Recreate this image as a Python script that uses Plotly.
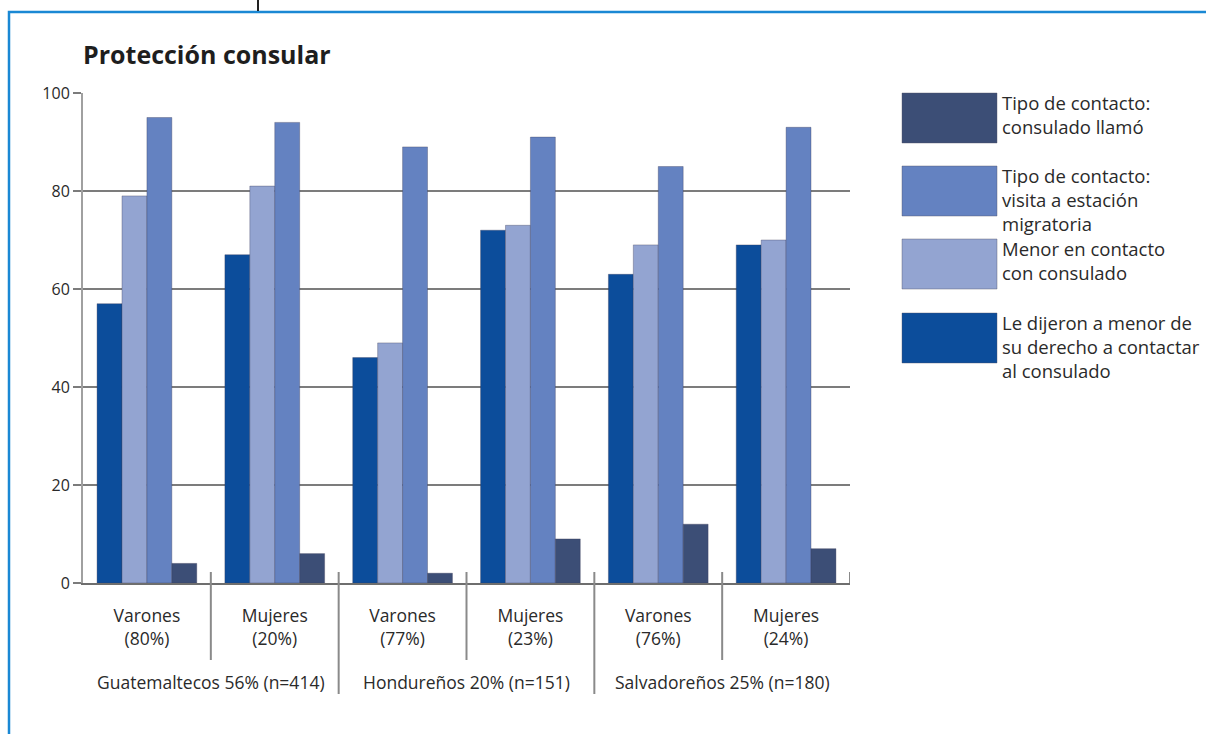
import plotly.graph_objects as go

categories = ["Varones<br>(80%)", "Mujeres<br>(20%)", "Varones<br>(77%)",
              "Mujeres<br>(23%)", "Varones<br>(76%)", "Mujeres<br>(24%)"]
groups = ["Guatemaltecos 56% (n=414)", "Hondureños 20% (n=151)", "Salvadoreños 25% (n=180)"]

le_dijeron = [57, 67, 46, 72, 63, 69]
menor_contacto = [79, 81, 49, 73, 69, 70]
visita_estacion = [95, 94, 89, 91, 85, 93]
consulado_llamo = [4, 6, 2, 9, 12, 7]

series_names = ["Le dijeron a menor de<br>su derecho a contactar<br>al consulado",
                "Menor en contacto<br>con consulado",
                "Tipo de contacto:<br>visita a estación<br>migratoria",
                "Tipo de contacto:<br>consulado llamó"]
series_values = [le_dijeron, menor_contacto, visita_estacion, consulado_llamo]
colors = ["#0c4d9b", "#93a4d1", "#6482c1", "#3c4e76"]
y_ticks = [0, 20, 40, 60, 80, 100]

FONT = "'Open Sans', Lato, sans-serif"
W, H = 1206, 734
L, R, T, B = 83, 356, 93, 151
PW = W - L - R
PH = H - T - B


def px_x(px):
    return (px - L) / PW


def px_y(py):
    return (H - B - py) / PH


fig = go.Figure()
for name, vals, col in zip(series_names, series_values, colors):
    fig.add_trace(go.Bar(
        x=categories, y=vals, name=name,
        marker=dict(color=col, line=dict(color="rgba(60,60,90,0.35)", width=1)),
        showlegend=False,
    ))

shapes = []
# blue frame
shapes.append(dict(type="rect", xref="paper", yref="paper",
                   x0=px_x(9), x1=px_x(1215), y0=px_y(745), y1=px_y(12),
                   line=dict(color="#1a88d4", width=2.5), fillcolor="rgba(0,0,0,0)", layer="below"))
# small black line at top
shapes.append(dict(type="line", xref="paper", yref="paper",
                   x0=px_x(258), x1=px_x(258), y0=px_y(0), y1=px_y(11),
                   line=dict(color="#222", width=2)))
# separators between categories
for i in range(1, 7):
    xpos = i - 0.5
    if i == 6:
        y_end = px_y(583)
    elif i % 2 == 0:
        y_end = px_y(694)
    else:
        y_end = px_y(660)
    shapes.append(dict(type="line", xref="x", yref="paper",
                       x0=xpos, x1=xpos, y0=px_y(572), y1=y_end,
                       line=dict(color="#8a8a8a", width=2)))

# legend swatches
legend_order = [3, 2, 1, 0]
sw_tops = [93, 166, 239, 313]
annotations = []
for k, idx in enumerate(legend_order):
    top = sw_tops[k]
    shapes.append(dict(type="rect", xref="paper", yref="paper",
                       x0=px_x(902), x1=px_x(997), y0=px_y(top + 50), y1=px_y(top),
                       fillcolor=colors[idx], line=dict(color="rgba(80,80,100,0.4)", width=1)))
    annotations.append(dict(xref="paper", yref="paper", x=px_x(1000), y=px_y(top - 5),
                            xanchor="left", yanchor="top", align="left",
                            text=series_names[idx], showarrow=False,
                            font=dict(family=FONT, size=18.5, color="#2a2a2a")))

# group labels
for g, label in enumerate(groups):
    annotations.append(dict(xref="x", yref="paper", x=2 * g + 0.5, y=px_y(682),
                            xanchor="center", yanchor="middle", text=label, showarrow=False,
                            font=dict(family=FONT, size=17.5, color="#2a2a2a")))

# title
annotations.append(dict(xref="paper", yref="paper", x=px_x(81), y=px_y(54),
                        xanchor="left", yanchor="middle", text="<b>Protección consular</b>",
                        showarrow=False, font=dict(family=FONT, size=25, color="#1e1e1e")))

fig.update_layout(
    width=W, height=H,
    margin=dict(l=L, r=R, t=T, b=B),
    paper_bgcolor="white", plot_bgcolor="white",
    barmode="group", bargap=0.22, bargroupgap=0.0,
    shapes=shapes, annotations=annotations,
    font=dict(family=FONT, size=17, color="#2a2a2a"),
    showlegend=False,
)
fig.update_xaxes(
    showline=True, linecolor="#6e6e6e", linewidth=2,
    ticks="", tickfont=dict(family=FONT, size=17.5, color="#2a2a2a"),
    ticklabelstandoff=16,
    showgrid=False, range=[-0.5, 5.5],
)
fig.update_yaxes(
    range=[0, 100], tickvals=y_ticks, ticktext=[str(v) for v in y_ticks],
    showgrid=True, gridcolor="#7c7c7c", gridwidth=2,
    showline=True, linecolor="#a0a0a0", linewidth=2,
    ticks="outside", ticklen=8, tickcolor="#7c7c7c", tickwidth=2,
    tickfont=dict(family=FONT, size=16, color="#2a2a2a"),
    zeroline=False,
)

fig.write_html("out.html")
